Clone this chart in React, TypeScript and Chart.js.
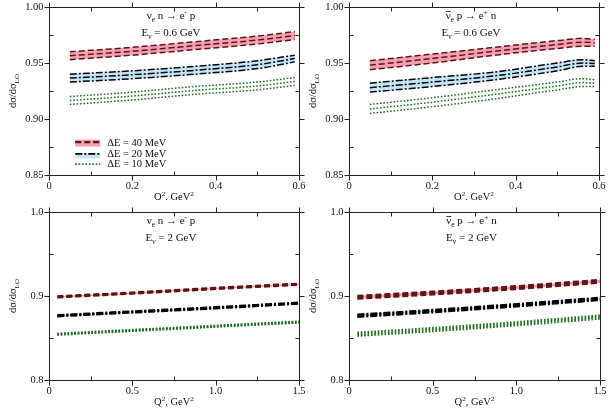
import React, { useEffect, useRef } from "react";
import { Chart, registerables } from "chart.js";
Chart.register(...registerables);

// ---------- DATA ----------
// E = 0.6 GeV, nu_e n -> e- p
const Q2_A = [0.05, 0.2, 0.35, 0.5, 0.59];
const A40_UP = [0.960, 0.964, 0.969, 0.974, 0.978];
const A40_MID = [0.9565, 0.9605, 0.9655, 0.9705, 0.9745];
const A40_LO = [0.953, 0.957, 0.962, 0.967, 0.971];
const A20_UP = [0.940, 0.943, 0.947, 0.952, 0.957];
const A20_MID = [0.9365, 0.9395, 0.9435, 0.9485, 0.954];
const A20_LO = [0.933, 0.936, 0.940, 0.945, 0.951];
const A10_UP = [0.920, 0.924, 0.929, 0.933, 0.937];
const A10_MID = [0.9165, 0.9205, 0.9255, 0.9295, 0.9335];
const A10_LO = [0.913, 0.917, 0.922, 0.926, 0.930];

// E = 0.6 GeV, anti-nu_e p -> e+ n
const Q2_B = [0.05, 0.2, 0.35, 0.5, 0.56, 0.59];
const B40_UP = [0.952, 0.958, 0.964, 0.970, 0.972, 0.971];
const B40_MID = [0.948, 0.954, 0.9605, 0.9665, 0.9685, 0.968];
const B40_LO = [0.944, 0.950, 0.957, 0.963, 0.965, 0.965];
const B20_UP = [0.932, 0.937, 0.942, 0.950, 0.953, 0.952];
const B20_MID = [0.928, 0.933, 0.9385, 0.9465, 0.950, 0.9495];
const B20_LO = [0.924, 0.929, 0.935, 0.943, 0.947, 0.947];
const B10_UP = [0.913, 0.919, 0.926, 0.933, 0.936, 0.935];
const B10_MID = [0.909, 0.915, 0.922, 0.9295, 0.9325, 0.932];
const B10_LO = [0.905, 0.911, 0.918, 0.926, 0.929, 0.929];

// E = 2 GeV, nu_e n -> e- p
const Q2_C = [0.05, 0.5, 1.0, 1.5];
const C40_UP = [0.8998, 0.9043, 0.9098, 0.9148];
const C40_MID = [0.899, 0.9035, 0.909, 0.914];
const C40_LO = [0.8982, 0.9027, 0.9082, 0.9132];
const C20_UP = [0.8773, 0.8818, 0.8868, 0.8923];
const C20_MID = [0.8765, 0.881, 0.886, 0.8915];
const C20_LO = [0.8757, 0.8802, 0.8852, 0.8907];
const C10_UP = [0.8553, 0.8598, 0.8648, 0.8698];
const C10_MID = [0.8545, 0.859, 0.864, 0.869];
const C10_LO = [0.8537, 0.8582, 0.8632, 0.8682];

// E = 2 GeV, anti-nu_e p -> e+ n
const Q2_D = [0.05, 0.5, 1.0, 1.5];
const D40_UP = [0.9003, 0.9053, 0.9118, 0.9193];
const D40_MID = [0.8985, 0.9035, 0.910, 0.9175];
const D40_LO = [0.8967, 0.9017, 0.9082, 0.9157];
const D20_UP = [0.878, 0.8835, 0.8905, 0.898];
const D20_MID = [0.8765, 0.882, 0.889, 0.8965];
const D20_LO = [0.875, 0.8805, 0.8875, 0.895];
const D10_UP = [0.8565, 0.862, 0.869, 0.877];
const D10_MID = [0.8545, 0.860, 0.867, 0.875];
const D10_LO = [0.8525, 0.858, 0.865, 0.873];

// ticks
const X_TICKS_LOW = [0, 0.2, 0.4, 0.6];
const X_TICK_LABELS_LOW = ["0", "0.2", "0.4", "0.6"];
const X_MINOR_LOW = [0.1, 0.3, 0.5];
const Y_TICKS_LOW = [0.85, 0.9, 0.95, 1.0];
const Y_TICK_LABELS_LOW = ["0.85", "0.90", "0.95", "1.00"];
const Y_MINOR_LOW = [0.875, 0.925, 0.975];

const X_TICKS_HIGH = [0, 0.5, 1.0, 1.5];
const X_TICK_LABELS_HIGH = ["0", "0.5", "1.0", "1.5"];
const X_MINOR_HIGH = [0.25, 0.75, 1.25];
const Y_TICKS_HIGH = [0.8, 0.9, 1.0];
const Y_TICK_LABELS_HIGH = ["0.8", "0.9", "1.0"];
const Y_MINOR_HIGH = [0.85, 0.95];

const LEGEND_LABELS = ["\u0394E = 40 MeV", "\u0394E = 20 MeV", "\u0394E = 10 MeV"];

// ---------- STYLE ----------
const RED = "#5e1414";
const PINK = "rgba(244,160,180,1)";
const BLACK = "#000000";
const BLUE = "rgba(196,230,248,1)";
const GREEN = "#226b22";
const FONT = '"Liberation Serif", "DejaVu Serif", serif';

type Seg = { t: string; s?: "sub" | "sup"; bar?: boolean };

function drawRich(ctx: CanvasRenderingContext2D, segs: Seg[], x: number, y: number, size: number, align: "center" | "left") {
  const widths = segs.map((seg) => {
    ctx.font = `${seg.s ? size * 0.68 : size}px ${FONT}`;
    return ctx.measureText(seg.t).width;
  });
  const total = widths.reduce((a, b) => a + b, 0);
  let cx = align === "center" ? x - total / 2 : x;
  ctx.textAlign = "left";
  ctx.textBaseline = "alphabetic";
  segs.forEach((seg, i) => {
    const sz = seg.s ? size * 0.68 : size;
    ctx.font = `${sz}px ${FONT}`;
    const dy = seg.s === "sub" ? size * 0.28 : seg.s === "sup" ? -size * 0.38 : 0;
    ctx.fillText(seg.t, cx, y + dy);
    if (seg.bar) ctx.fillRect(cx, y - size * 0.72, widths[i], 0.8);
    cx += widths[i];
  });
}

type PanelCfg = {
  left: number; top: number; width: number; height: number;
  pad: { left: number; top: number; right: number; bottom: number };
  q2: number[];
  bands: number[][][];
  lw: number;
  xmax: number; ymin: number; ymax: number;
  xt: number[]; xtl: string[]; xm: number[];
  yt: number[]; ytl: string[]; ym: number[];
  process: Seg[]; energy: Seg[];
  legend: boolean;
};

const NU: Seg[] = [{ t: "\u03BD" }, { t: "e", s: "sub" }, { t: " n \u2192 e" }, { t: "-", s: "sup" }, { t: " p" }];
const ANU: Seg[] = [{ t: "\u03BD", bar: true }, { t: "e", s: "sub" }, { t: " p \u2192 e" }, { t: "+", s: "sup" }, { t: " n" }];
const E06: Seg[] = [{ t: "E" }, { t: "\u03BD", s: "sub" }, { t: " = 0.6 GeV" }];
const E2: Seg[] = [{ t: "E" }, { t: "\u03BD", s: "sub" }, { t: " = 2 GeV" }];

const STYLES = [
  { color: RED, fill: PINK, dash: [6, 3] },
  { color: BLACK, fill: BLUE, dash: [7, 2, 2, 2] },
  { color: GREEN, fill: "rgba(0,0,0,0)", dash: [1.6, 1.8] },
];

const PANELS: PanelCfg[] = [
  {
    left: 0, top: 0, width: 306, height: 200,
    pad: { left: 49, top: 7, right: 7, bottom: 25 },
    q2: Q2_A,
    bands: [[A40_UP, A40_MID, A40_LO], [A20_UP, A20_MID, A20_LO], [A10_UP, A10_MID, A10_LO]],
    lw: 1.5, xmax: 0.6, ymin: 0.85, ymax: 1.0,
    xt: X_TICKS_LOW, xtl: X_TICK_LABELS_LOW, xm: X_MINOR_LOW,
    yt: Y_TICKS_LOW, ytl: Y_TICK_LABELS_LOW, ym: Y_MINOR_LOW,
    process: NU, energy: E06, legend: true,
  },
  {
    left: 306, top: 0, width: 307, height: 200,
    pad: { left: 43, top: 7, right: 14, bottom: 25 },
    q2: Q2_B,
    bands: [[B40_UP, B40_MID, B40_LO], [B20_UP, B20_MID, B20_LO], [B10_UP, B10_MID, B10_LO]],
    lw: 1.5, xmax: 0.6, ymin: 0.85, ymax: 1.0,
    xt: X_TICKS_LOW, xtl: X_TICK_LABELS_LOW, xm: X_MINOR_LOW,
    yt: Y_TICKS_LOW, ytl: Y_TICK_LABELS_LOW, ym: Y_MINOR_LOW,
    process: ANU, energy: E06, legend: false,
  },
  {
    left: 0, top: 200, width: 306, height: 215,
    pad: { left: 49, top: 12, right: 7, bottom: 35 },
    q2: Q2_C,
    bands: [[C40_UP, C40_MID, C40_LO], [C20_UP, C20_MID, C20_LO], [C10_UP, C10_MID, C10_LO]],
    lw: 2, xmax: 1.5, ymin: 0.8, ymax: 1.0,
    xt: X_TICKS_HIGH, xtl: X_TICK_LABELS_HIGH, xm: X_MINOR_HIGH,
    yt: Y_TICKS_HIGH, ytl: Y_TICK_LABELS_HIGH, ym: Y_MINOR_HIGH,
    process: NU, energy: E2, legend: false,
  },
  {
    left: 306, top: 200, width: 307, height: 215,
    pad: { left: 43, top: 12, right: 13, bottom: 35 },
    q2: Q2_D,
    bands: [[D40_UP, D40_MID, D40_LO], [D20_UP, D20_MID, D20_LO], [D10_UP, D10_MID, D10_LO]],
    lw: 2, xmax: 1.5, ymin: 0.8, ymax: 1.0,
    xt: X_TICKS_HIGH, xtl: X_TICK_LABELS_HIGH, xm: X_MINOR_HIGH,
    yt: Y_TICKS_HIGH, ytl: Y_TICK_LABELS_HIGH, ym: Y_MINOR_HIGH,
    process: ANU, energy: E2, legend: false,
  },
];

function makeChart(canvas: HTMLCanvasElement, p: PanelCfg) {
  const datasets: any[] = [];
  p.bands.forEach((band, bi) => {
    const st = STYLES[bi];
    band.forEach((vals, li) => {
      datasets.push({
        data: p.q2.map((x, i) => ({ x, y: vals[i] })),
        borderColor: st.color,
        borderWidth: p.lw,
        borderDash: st.dash,
        backgroundColor: st.fill,
        fill: li === 0 ? "+2" : false,
        pointRadius: 0,
        cubicInterpolationMode: "monotone",
      });
    });
  });

  const axesPlugin = {
    id: "axesPlugin",
    afterDraw(chart: any) {
      const ctx: CanvasRenderingContext2D = chart.ctx;
      const a = chart.chartArea;
      const xs = chart.scales.x;
      const ys = chart.scales.y;
      ctx.save();
      ctx.strokeStyle = "#222";
      ctx.fillStyle = "#111";
      ctx.lineWidth = 1;
      ctx.setLineDash([]);
      const L = Math.round(a.left) + 0.5, R = Math.round(a.right) + 0.5;
      const T = Math.round(a.top) + 0.5, B = Math.round(a.bottom) + 0.5;
      ctx.beginPath();
      ctx.rect(L, T, R - L, B - T);
      ctx.stroke();
      const MAJ = 5, MIN = 4;
      ctx.beginPath();
      p.xt.forEach((v) => {
        const x = Math.round(xs.getPixelForValue(v)) + 0.5;
        ctx.moveTo(x, B); ctx.lineTo(x, B + MAJ);
        ctx.moveTo(x, T); ctx.lineTo(x, T - MAJ);
      });
      p.xm.forEach((v) => {
        const x = Math.round(xs.getPixelForValue(v)) + 0.5;
        ctx.moveTo(x, B); ctx.lineTo(x, B - MIN);
        ctx.moveTo(x, T); ctx.lineTo(x, T + MIN);
      });
      p.yt.forEach((v) => {
        const y = Math.round(ys.getPixelForValue(v)) + 0.5;
        ctx.moveTo(L, y); ctx.lineTo(L - MAJ, y);
        ctx.moveTo(R, y); ctx.lineTo(R + MAJ, y);
      });
      p.ym.forEach((v) => {
        const y = Math.round(ys.getPixelForValue(v)) + 0.5;
        ctx.moveTo(L, y); ctx.lineTo(L + MIN, y);
        ctx.moveTo(R, y); ctx.lineTo(R - MIN, y);
      });
      ctx.stroke();

      // tick labels
      ctx.font = `10.5px ${FONT}`;
      ctx.textAlign = "center";
      ctx.textBaseline = "top";
      p.xt.forEach((v, i) => {
        ctx.fillText(p.xtl[i], xs.getPixelForValue(v), B + 5);
      });
      ctx.textAlign = "right";
      ctx.textBaseline = "middle";
      p.yt.forEach((v, i) => {
        ctx.fillText(p.ytl[i], L - 6, ys.getPixelForValue(v));
      });

      // axis titles
      const cxm = (a.left + a.right) / 2;
      drawRich(ctx, [{ t: "Q" }, { t: "2", s: "sup" }, { t: ", GeV" }, { t: "2", s: "sup" }], cxm, B + 24, 10.5, "center");
      ctx.save();
      ctx.translate(a.left - 33, (a.top + a.bottom) / 2);
      ctx.rotate(-Math.PI / 2);
      drawRich(ctx, [{ t: "d\u03C3/d\u03C3" }, { t: "LO", s: "sub" }], 0, 0, 10.5, "center");
      ctx.restore();

      // annotations
      drawRich(ctx, p.process, cxm - 3, a.top + 12, 11, "center");
      drawRich(ctx, p.energy, cxm - 3, a.top + 29, 11, "center");

      // legend
      if (p.legend) {
        const x0 = xs.getPixelForValue(0.063);
        const x1 = xs.getPixelForValue(0.123);
        const rows = [ys.getPixelForValue(0.8785), ys.getPixelForValue(0.8685), ys.getPixelForValue(0.8592)];
        rows.forEach((y, i) => {
          const st = STYLES[i];
          if (i === 0) { ctx.fillStyle = PINK; ctx.fillRect(x0, y - 3.5, x1 - x0, 7); }
          if (i === 1) { ctx.fillStyle = BLUE; ctx.fillRect(x0, y - 1, x1 - x0, 5); }
          ctx.strokeStyle = st.color;
          ctx.lineWidth = i === 0 ? 2.2 : 1.8;
          ctx.setLineDash(st.dash);
          ctx.beginPath();
          ctx.moveTo(x0, y - (i === 0 ? 1 : 0.5));
          ctx.lineTo(x1, y - (i === 0 ? 1 : 0.5));
          ctx.stroke();
          ctx.setLineDash([]);
          ctx.fillStyle = "#111";
          ctx.font = `10.5px ${FONT}`;
          ctx.textAlign = "left";
          ctx.textBaseline = "middle";
          ctx.fillText(LEGEND_LABELS[i], x1 + 7, y);
        });
      }
      ctx.restore();
    },
  };

  return new Chart(canvas, {
    type: "line",
    data: { datasets },
    options: {
      animation: false,
      responsive: false,
      maintainAspectRatio: false,
      devicePixelRatio: 1,
      layout: { padding: p.pad },
      plugins: {
        legend: { display: false },
        tooltip: { enabled: false },
        filler: { drawTime: "beforeDatasetsDraw" },
      },
      scales: {
        x: { type: "linear", min: 0, max: p.xmax, display: false },
        y: { type: "linear", min: p.ymin, max: p.ymax, display: false },
      },
    },
    plugins: [axesPlugin],
  } as any);
}

function Panel({ p }: { p: PanelCfg }) {
  const ref = useRef<HTMLCanvasElement>(null);
  useEffect(() => {
    if (!ref.current) return;
    const c = makeChart(ref.current, p);
    return () => c.destroy();
  }, [p]);
  return (
    <canvas
      ref={ref}
      width={p.width}
      height={p.height}
      style={{ position: "absolute", left: p.left, top: p.top, width: p.width, height: p.height }}
    />
  );
}

export default function App() {
  useEffect(() => {
    document.body.style.margin = "0";
    document.body.style.background = "#fff";
  }, []);
  return (
    <div style={{ position: "absolute", left: 0, top: 0, width: 613, height: 415, background: "#fff" }}>
      {PANELS.map((p, i) => (
        <Panel key={i} p={p} />
      ))}
    </div>
  );
}
